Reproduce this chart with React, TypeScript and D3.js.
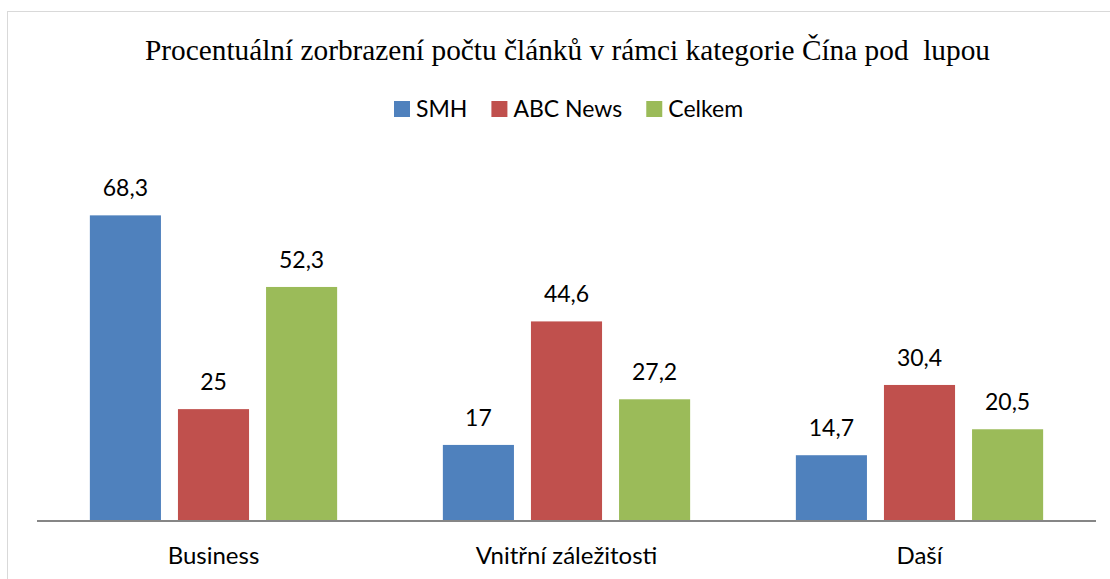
import React, { useEffect, useRef } from "react";
import * as d3 from "d3";

const categories = ["Business", "Vnitřní záležitosti", "Daší"];
const seriesNames = ["SMH", "ABC News", "Celkem"];
const smhValues = [68.3, 17, 14.7];
const abcValues = [25, 44.6, 30.4];
const celkemValues = [52.3, 27.2, 20.5];
const colors = ["#4F81BD", "#C0504D", "#9BBB59"];

const title = "Procentuální zorbrazení počtu článků v rámci kategorie Čína pod  lupou";

const sansFont = "Lato, 'Open Sans', sans-serif";

export default function App() {
  const ref = useRef<SVGSVGElement>(null);

  useEffect(() => {
    const svg = d3.select(ref.current);
    svg.selectAll("*").remove();

    const width = 1110;
    const height = 579;
    const margin = { left: 37, right: 14, top: 163, bottom: 58 };
    const baseY = height - margin.bottom;

    // chart frame
    svg.append("rect")
      .attr("x", 7.5)
      .attr("y", 11.5)
      .attr("width", 1120)
      .attr("height", 620)
      .attr("fill", "#fff")
      .attr("stroke", "#d9d9d9")
      .attr("stroke-width", 1);

    const table = categories.map((c, i) => ({
      category: c,
      values: [smhValues[i], abcValues[i], celkemValues[i]],
    }));

    const x0 = d3.scaleBand<string>()
      .domain(categories)
      .range([margin.left, width - margin.right])
      .padding(0);

    const x1 = d3.scaleBand<string>()
      .domain(seriesNames)
      .range([0, x0.bandwidth()])
      .paddingInner(0.193)
      .paddingOuter(0.6);

    const y = d3.scaleLinear().domain([0, 80]).range([baseY, margin.top]);

    // title
    svg.append("text")
      .attr("x", 567.5)
      .attr("y", 60)
      .attr("text-anchor", "middle")
      .attr("textLength", 845)
      .attr("lengthAdjust", "spacingAndGlyphs")
      .style("font-family", "'Liberation Serif', 'Times New Roman', serif")
      .style("font-size", "29px")
      .style("white-space", "pre")
      .attr("fill", "#000")
      .text(title);

    // legend
    const legend = svg.append("g");
    let lx = 0;
    seriesNames.forEach((name, i) => {
      const item = legend.append("g").attr("transform", `translate(${lx},0)`);
      item.append("rect")
        .attr("x", 0)
        .attr("y", 101)
        .attr("width", 16)
        .attr("height", 16)
        .attr("fill", colors[i]);
      const t = item.append("text")
        .attr("x", 22)
        .attr("y", 117)
        .style("font-family", sansFont)
        .style("font-size", "23px")
        .attr("fill", "#000")
        .text(name);
      const w = (t.node() as SVGTextElement).getComputedTextLength();
      lx += 22 + w + 24;
    });
    legend.attr("transform", `translate(394,0)`);

    // bars
    const groups = svg.append("g")
      .selectAll("g")
      .data(table)
      .join("g")
      .attr("transform", (d) => `translate(${x0(d.category)},0)`);

    groups.selectAll("rect")
      .data((d) => d.values.map((v, i) => ({ key: seriesNames[i], value: v, i })))
      .join("rect")
      .attr("x", (d) => x1(d.key)!)
      .attr("y", (d) => y(d.value))
      .attr("width", x1.bandwidth())
      .attr("height", (d) => baseY - y(d.value))
      .attr("fill", (d) => colors[d.i]);

    groups.selectAll("text")
      .data((d) => d.values.map((v, i) => ({ key: seriesNames[i], value: v })))
      .join("text")
      .attr("x", (d) => x1(d.key)! + x1.bandwidth() / 2)
      .attr("y", (d) => y(d.value) - 19)
      .attr("text-anchor", "middle")
      .style("font-family", sansFont)
      .style("font-size", "23px")
      .attr("fill", "#000")
      .text((d) => String(d.value).replace(".", ","));

    // axis line
    svg.append("line")
      .attr("x1", margin.left)
      .attr("x2", width - margin.right)
      .attr("y1", baseY)
      .attr("y2", baseY)
      .attr("stroke", "#868686")
      .attr("stroke-width", 2);

    // category labels
    svg.append("g")
      .selectAll("text")
      .data(categories)
      .join("text")
      .attr("x", (d) => x0(d)! + x0.bandwidth() / 2)
      .attr("y", 564)
      .attr("text-anchor", "middle")
      .style("font-family", sansFont)
      .style("font-size", "24px")
      .attr("fill", "#000")
      .text((d) => d);
  }, []);

  return (
    <svg
      ref={ref}
      width={1110}
      height={579}
      style={{ position: "absolute", left: 0, top: 0, display: "block" }}
    />
  );
}
